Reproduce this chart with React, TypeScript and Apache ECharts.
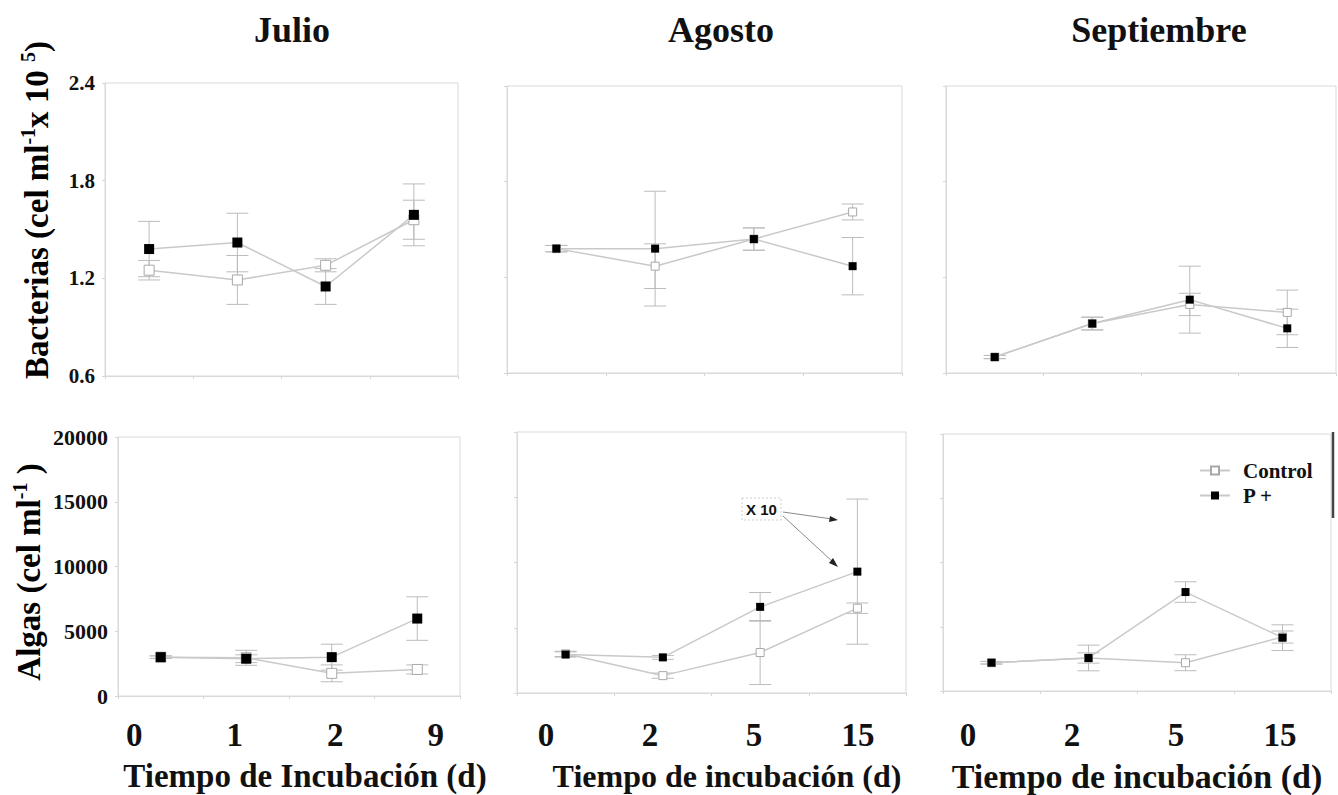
import React, { useEffect, useRef } from "react";
import * as echarts from "echarts";

const SERIF = "'Liberation Serif', 'Times New Roman', serif";
const SANS = "'Liberation Sans', Arial, sans-serif";

// Month titles and incubation days (tick labels)
const months = ["Julio", "Agosto", "Septiembre"];
const julioDays = ["0", "1", "2", "9"];
const agostoDays = ["0", "2", "5", "15"];
const septiembreDays = ["0", "2", "5", "15"];

// Bacterias (cel ml-1 x 10^5): means and error half-widths
const julioBactControl = [1.25, 1.19, 1.28, 1.56];
const julioBactControlErr = [0.06, 0.15, 0.04, 0.12];
const julioBactP = [1.38, 1.42, 1.15, 1.59];
const julioBactPErr = [0.17, 0.18, 0.11, 0.19];

const agostoBactControl = [1.38, 1.27, 1.44, 1.61];
const agostoBactControlErr = [0.02, 0.14, 0.07, 0.05];
const agostoBactP = [1.38, 1.38, 1.44, 1.27];
const agostoBactPErr = [0.02, 0.36, 0.07, 0.18];

const septBactControl = [0.7, 0.91, 1.03, 0.98];
const septBactControlErr = [0.01, 0.04, 0.07, 0.14];
const septBactP = [0.7, 0.91, 1.06, 0.88];
const septBactPErr = [0.01, 0.04, 0.21, 0.12];

// Algas (cel ml-1): means and error half-widths
const julioAlgControl = [3000, 2950, 1750, 2050];
const julioAlgControlErr = [100, 580, 650, 350];
const julioAlgP = [3000, 2880, 3000, 5980];
const julioAlgPErr = [100, 300, 1000, 1680];

const agostoAlgControl = [3000, 1330, 3100, 6500];
const agostoAlgControlErr = [200, 200, 2450, 400];
const agostoAlgP = [2950, 2730, 6600, 9300];
const agostoAlgPErr = [200, 150, 1100, 5560];

const septAlgControl = [2200, 2570, 2200, 4200];
const septAlgControlErr = [100, 400, 620, 470];
const septAlgP = [2200, 2570, 7700, 4150];
const septAlgPErr = [100, 1000, 800, 1000];

// Axis ranges
const bactTicks = { min: 0.6, max: 2.4, interval: 0.6 };
const algTicks = { min: 0, max: 20000, interval: 5000 };

const LINE = "#c9c9c9";
const ERR = "#bcbcbc";
const BOX = "#d9d9d9";

type Panel = {
  grid: { left: number; top: number; width: number; height: number };
  days: string[];
  range: { min: number; max: number; interval: number };
  showY: boolean;
  yFont: number;
  yDigits: number;
  control: number[];
  controlErr: number[];
  p: number[];
  pErr: number[];
  sym: number;
};

const panels: Panel[] = [
  { grid: { left: 105, top: 83, width: 353, height: 293 }, days: julioDays, range: bactTicks, showY: true, yFont: 21, yDigits: 1, control: julioBactControl, controlErr: julioBactControlErr, p: julioBactP, pErr: julioBactPErr, sym: 10 },
  { grid: { left: 507, top: 86, width: 395, height: 287 }, days: agostoDays, range: bactTicks, showY: false, yFont: 21, yDigits: 1, control: agostoBactControl, controlErr: agostoBactControlErr, p: agostoBactP, pErr: agostoBactPErr, sym: 8 },
  { grid: { left: 946, top: 86, width: 390, height: 287 }, days: septiembreDays, range: bactTicks, showY: false, yFont: 21, yDigits: 1, control: septBactControl, controlErr: septBactControlErr, p: septBactP, pErr: septBactPErr, sym: 8 },
  { grid: { left: 118, top: 437, width: 342, height: 259 }, days: julioDays, range: algTicks, showY: true, yFont: 22, yDigits: 0, control: julioAlgControl, controlErr: julioAlgControlErr, p: julioAlgP, pErr: julioAlgPErr, sym: 10 },
  { grid: { left: 517, top: 432, width: 389, height: 261 }, days: agostoDays, range: algTicks, showY: false, yFont: 22, yDigits: 0, control: agostoAlgControl, controlErr: agostoAlgControlErr, p: agostoAlgP, pErr: agostoAlgPErr, sym: 8 },
  { grid: { left: 943, top: 434, width: 388, height: 257 }, days: septiembreDays, range: algTicks, showY: false, yFont: 22, yDigits: 0, control: septAlgControl, controlErr: septAlgControlErr, p: septAlgP, pErr: septAlgPErr, sym: 8 },
];

// Rows that carry the day labels under each column
const labelRows = [
  { grid: { left: 84, top: 700, width: 402, height: 12 }, days: julioDays },
  { grid: { left: 494, top: 700, width: 416, height: 12 }, days: agostoDays },
  { grid: { left: 916, top: 700, width: 416, height: 12 }, days: septiembreDays },
];

function errorBars(values: number[], errs: number[], idx: number, id: string) {
  return {
    type: "custom",
    id,
    xAxisIndex: idx,
    yAxisIndex: idx,
    z: 1,
    silent: true,
    encode: { x: 0, y: 1 },
    data: values.map((v, i) => [i, v, errs[i]]),
    renderItem: (_params: any, api: any) => {
      const x = api.value(0);
      const y = api.value(1);
      const e = api.value(2);
      const hi = api.coord([x, y + e]);
      const lo = api.coord([x, y - e]);
      const half = 11;
      const style = { stroke: ERR, lineWidth: 1 };
      return {
        type: "group",
        children: [
          { type: "line", shape: { x1: hi[0], y1: hi[1], x2: lo[0], y2: lo[1] }, style },
          { type: "line", shape: { x1: hi[0] - half, y1: hi[1], x2: hi[0] + half, y2: hi[1] }, style },
          { type: "line", shape: { x1: lo[0] - half, y1: lo[1], x2: lo[0] + half, y2: lo[1] }, style },
        ],
      };
    },
  };
}

function buildOption() {
  const grid: any[] = [];
  const xAxis: any[] = [];
  const yAxis: any[] = [];
  const series: any[] = [];

  panels.forEach((pn, i) => {
    grid.push({ ...pn.grid, show: true, borderColor: BOX, borderWidth: 1, backgroundColor: "transparent" });
    xAxis.push({
      gridIndex: i,
      type: "category",
      data: pn.days,
      boundaryGap: true,
      axisLabel: { show: false },
      axisLine: { show: true, lineStyle: { color: BOX } },
      axisTick: { show: true, length: 3, lineStyle: { color: "#d6d6d6" } },
      splitLine: { show: false },
    });
    yAxis.push({
      gridIndex: i,
      type: "value",
      min: pn.range.min,
      max: pn.range.max,
      interval: pn.range.interval,
      axisLabel: {
        show: pn.showY,
        margin: 10,
        fontSize: pn.yFont,
        fontWeight: "bold",
        fontFamily: SERIF,
        color: "#111",
        formatter: (v: number) => v.toFixed(pn.yDigits),
      },
      axisLine: { show: true, lineStyle: { color: BOX } },
      axisTick: { show: true, length: 3, lineStyle: { color: "#d6d6d6" } },
      splitLine: { show: false },
    });
    series.push(errorBars(pn.control, pn.controlErr, i, `errControl${i}`));
    series.push(errorBars(pn.p, pn.pErr, i, `errP${i}`));
    series.push({
      type: "line",
      name: "Control",
      xAxisIndex: i,
      yAxisIndex: i,
      z: 2,
      data: pn.control,
      symbol: "rect",
      symbolSize: pn.sym,
      showAllSymbol: true,
      lineStyle: { color: LINE, width: 1.5 },
      itemStyle: { color: "#ffffff", borderColor: "#a8a8a8", borderWidth: 1 },
    });
    series.push({
      type: "line",
      name: "P +",
      xAxisIndex: i,
      yAxisIndex: i,
      z: 3,
      data: pn.p,
      symbol: "rect",
      symbolSize: pn.sym,
      showAllSymbol: true,
      lineStyle: { color: LINE, width: 1.5 },
      itemStyle: { color: "#000000", borderColor: "#000000", borderWidth: 0 },
    });
  });

  labelRows.forEach((row, k) => {
    const gi = panels.length + k;
    grid.push({ ...row.grid, show: false });
    xAxis.push({
      gridIndex: gi,
      type: "category",
      data: row.days,
      boundaryGap: true,
      axisLine: { show: false },
      axisTick: { show: false },
      splitLine: { show: false },
      axisLabel: { margin: 6, fontSize: 33, fontWeight: "bold", fontFamily: SERIF, color: "#111" },
    });
    yAxis.push({ gridIndex: gi, type: "value", show: false });
  });

  const titleStyle = (text: string, x: number, y: number, size: number) => ({
    type: "text",
    x,
    y,
    silent: true,
    style: {
      text,
      fill: "#111",
      font: `bold ${size}px ${SERIF}`,
      textAlign: "center",
      textVerticalAlign: "middle",
    },
  });

  const rich = {
    n: { fontSize: 33, fontWeight: "bold", fontFamily: SERIF, color: "#111", lineHeight: 38 },
    s: { fontSize: 20, fontWeight: "bold", fontFamily: SERIF, color: "#111", lineHeight: 38, verticalAlign: "top" },
  };

  const graphic: any[] = [
    titleStyle(months[0], 292, 30, 36),
    titleStyle(months[1], 721, 30, 36),
    titleStyle(months[2], 1159, 30, 36),
    titleStyle("Tiempo de Incubación (d)", 305, 776, 33),
    titleStyle("Tiempo de incubación (d)", 727, 776, 32),
    titleStyle("Tiempo de incubación (d)", 1137, 776, 34),
    {
      type: "text",
      x: 37,
      y: 210,
      rotation: Math.PI / 2,
      silent: true,
      style: {
        text: "{n|Bacterias (cel ml}{s|-1}{n|x 10 }{s|5}{n|)}",
        rich,
        textAlign: "center",
        textVerticalAlign: "middle",
      },
    },
    {
      type: "text",
      x: 29,
      y: 572,
      rotation: Math.PI / 2,
      silent: true,
      style: {
        text: "{n|Algas (cel ml}{s|-1}{n| )}",
        rich,
        textAlign: "center",
        textVerticalAlign: "middle",
      },
    },
    // "X 10" note with its two arrows
    {
      type: "rect",
      silent: true,
      shape: { x: 742, y: 498, width: 39, height: 22 },
      style: { fill: "#ffffff", stroke: "#cfcfcf", lineWidth: 1, lineDash: [2, 2] },
    },
    {
      type: "text",
      x: 761.5,
      y: 509,
      silent: true,
      style: { text: "X 10", font: `bold 15px ${SANS}`, fill: "#111", textAlign: "center", textVerticalAlign: "middle" },
    },
    { type: "line", silent: true, shape: { x1: 783, y1: 512, x2: 832, y2: 519 }, style: { stroke: "#8a8a8a", lineWidth: 1 } },
    { type: "polygon", silent: true, shape: { points: [[838, 520], [830, 516], [829, 522]] }, style: { fill: "#222" } },
    { type: "line", silent: true, shape: { x1: 783, y1: 516, x2: 833, y2: 562 }, style: { stroke: "#8a8a8a", lineWidth: 1 } },
    { type: "polygon", silent: true, shape: { points: [[838, 567], [829, 563], [833, 558]] }, style: { fill: "#222" } },
    // dark bar on the right edge of the Septiembre algae panel
    { type: "line", silent: true, shape: { x1: 1333, y1: 432, x2: 1333, y2: 518 }, style: { stroke: "#444", lineWidth: 2.5 } },
  ];

  return {
    animation: false,
    backgroundColor: "#ffffff",
    grid,
    xAxis,
    yAxis,
    series,
    graphic,
    legend: {
      data: ["Control", "P +"],
      orient: "vertical",
      left: 1194,
      top: 455,
      itemWidth: 30,
      itemHeight: 10,
      itemGap: 4,
      selectedMode: false,
      textStyle: { fontSize: 21, fontWeight: "bold", fontFamily: SERIF, color: "#111", padding: [0, 0, 0, 8] },
    },
  };
}

export default function App() {
  const ref = useRef<HTMLDivElement>(null);
  useEffect(() => {
    if (!ref.current) return;
    const chart = echarts.init(ref.current, undefined, { renderer: "svg" });
    chart.setOption(buildOption() as any);
    return () => chart.dispose();
  }, []);
  return (
    <div
      ref={ref}
      style={{ position: "fixed", left: 0, top: 0, width: 1338, height: 795, background: "#fff" }}
    />
  );
}
